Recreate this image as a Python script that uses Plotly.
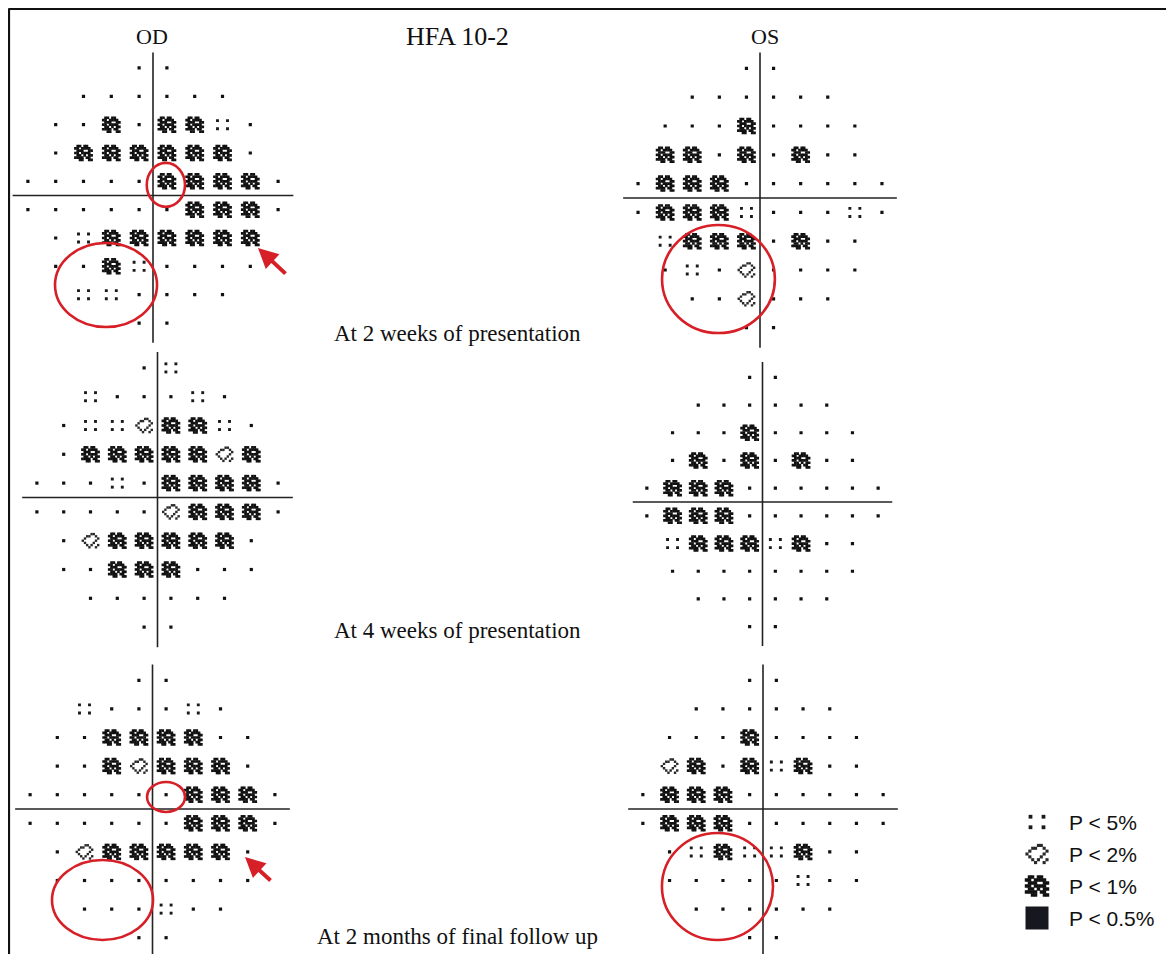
import plotly.graph_objects as go

# The page body keeps its default 8px margin, so the figure is drawn 8px in from
# the window corner; screen positions below are converted with OFF.
SCREEN_W, SCREEN_H = 1174, 954
OFF = 8
W, H = SCREEN_W - OFF, SCREEN_H - OFF

# ---------------- data (HFA 10-2 pattern deviation probability plots) ----------------
# row strings, top row first; '.' normal, ':' P<5%, '/' P<2%, '#' P<1%
OD_2_weeks = ["..", "......", "..#.##:.", ".######.", ".....####.",
              "......###.", ".:######", "..#:....", "::....", ".."]
OS_2_weeks = ["..", "......", "...#....", "##.#.#..", ".###......",
              ".###:...:.", ":###.#..", ".:./....", "../...", ".."]
OD_4_weeks = [".:", ":...:.", ".::/##:.", ".#####/#", "...:.####.",
              "...../###.", "./#####.", "..###...", "......", ".."]
OS_4_weeks = ["..", "......", "...#....", ".#.#.#..", ".###......",
              ".###......", ":###:#..", "........", "......", ".."]
OD_2_months = ["..", ":...:.", "..####..", "..#/###.", "......###.",
               "......###.", "./#####.", "........", "...:..", ".."]
OS_2_months = ["..", "......", "...#....", "/#.#:#..", ".###......",
               ".###......", ".:#::#..", ".....:..", "......", ".."]

row_y_deg = [9, 7, 5, 3, 1, -1, -3, -5, -7, -9]

eye_labels = ["OD", "OS"]
title_text = "HFA 10-2"
captions = ["At 2 weeks of presentation", "At 4 weeks of presentation",
            "At 2 months of final follow up"]
legend_codes = [":", "/", "#", "B"]
legend_labels = ["P < 5%", "P < 2%", "P < 1%", "P < 0.5%"]

# highlighted regions (degrees): panel index, x0, x1, y0, y1
highlight_ellipses = [
    (0, -0.45, 2.3, -0.8, 2.3),
    (0, -7.05, 0.29, -9.28, -3.35),
    (1, -7.23, 1.1, -9.38, -1.88),
    (4, -0.4, 2.39, -0.21, 1.89),
    (4, -7.39, 0.04, -9.16, -3.57),
    (5, -7.57, 0.75, -9.16, -1.68),
]
# arrows (degrees): panel index, head x, head y, tail x, tail y
highlight_arrows = [
    (0, 7.55, -3.7, 9.64, -5.61),
    (4, 6.8, -3.36, 8.79, -5.1),
]

panels_data = [OD_2_weeks, OS_2_weeks, OD_4_weeks, OS_4_weeks, OD_2_months, OS_2_months]

# ---------------- layout geometry (screen pixels) ----------------
# centre x, centre y, px per degree x, px per degree y
PANEL_GEOM = [
    (153.0, 195.5, 13.9, 14.17),
    (760.0, 198.0, 13.55, 14.4),
    (157.5, 497.5, 13.4, 14.4),
    (762.5, 502.0, 12.85, 13.85),
    (152.5, 809.0, 13.6, 14.3),
    (763.0, 809.0, 13.35, 14.3),
]
R = 11.0
LINE_EXT = 10.1


def px(x):
    return (x - OFF) / W


def py(y):
    return 1 - (y - OFF) / H


# glyph masks: (mask rows, step px (x, y), square size px, colour)
GLYPHS = {
    ".": (["#"], (0, 0), 3.2, "#111111"),
    ":": (["#...#", ".....", ".....", "#...#"], (2.5, 2.7), 2.9, "#1a1a1a"),
    "#": ([".##.##..",
           "##.####.",
           ".###..##",
           "##.####.",
           ".##.#.##",
           "####.##.",
           "..##..##"], (2.3, 2.3), 2.7, "#111111"),
    "/": (["....##..",
           "..##..#.",
           ".#.....#",
           "#.....#.",
           ".#...#..",
           "..#.#..#",
           "...#..#."], (2.2, 2.2), 2.4, "#2a2a2a"),
    "B": (["#"], (0, 0), 23, "#16171f"),
}


def glyph_points(code, x, y, sx, sy, scale=1.0):
    mask, (stx, sty), size, colour = GLYPHS[code]
    nr, nc = len(mask), len(mask[0])
    xs, ys = [], []
    for r, row in enumerate(mask):
        for c, ch in enumerate(row):
            if ch == "#":
                dxp = (c - (nc - 1) / 2) * stx * scale
                dyp = (r - (nr - 1) / 2) * sty * scale
                xs.append(x + dxp / sx)
                ys.append(y - dyp / sy)
    return xs, ys, size * scale, colour


fig = go.Figure()
layout_axes = {}

for i, (rows, (cx, cy, sx, sy)) in enumerate(zip(panels_data, PANEL_GEOM)):
    n = i + 1
    xa = "xaxis" if n == 1 else f"xaxis{n}"
    ya = "yaxis" if n == 1 else f"yaxis{n}"
    xref = "x" if n == 1 else f"x{n}"
    yref = "y" if n == 1 else f"y{n}"
    x0p, x1p = max(cx - R * sx, OFF), min(cx + R * sx, SCREEN_W)
    top_p, bot_p = max(cy - R * sy, OFF), min(cy + R * sy, SCREEN_H)
    layout_axes[xa] = dict(domain=[px(x0p), px(x1p)], range=[(x0p - cx) / sx, (x1p - cx) / sx],
                           visible=False, anchor=yref, fixedrange=True)
    layout_axes[ya] = dict(domain=[py(bot_p), py(top_p)],
                           range=[-(bot_p - cy) / sy, (cy - top_p) / sy],
                           visible=False, anchor=xref, fixedrange=True)

    groups = {}
    for yv, row in zip(row_y_deg, rows):
        nct = len(row)
        for k, code in enumerate(row):
            xv = -(nct - 1) + 2 * k
            xs, ys, size, colour = glyph_points(code, xv, yv, sx, sy)
            g = groups.setdefault((size, colour), ([], []))
            g[0].extend(xs)
            g[1].extend(ys)
    for (size, colour), (xs, ys) in groups.items():
        fig.add_trace(go.Scatter(x=xs, y=ys, mode="markers", xaxis=xref, yaxis=yref,
                                 marker=dict(symbol="square", size=size, color=colour,
                                             line=dict(width=0)),
                                 hoverinfo="skip", showlegend=False))
    # cross-hair axes
    fig.add_shape(type="line", xref=xref, yref=yref, x0=-LINE_EXT, x1=LINE_EXT, y0=0, y1=0,
                  line=dict(color="#222222", width=1.6))
    fig.add_shape(type="line", xref=xref, yref=yref, x0=0, x1=0, y0=-LINE_EXT - 0.3, y1=LINE_EXT,
                  line=dict(color="#222222", width=1.6))

for (p, ex0, ex1, ey0, ey1) in highlight_ellipses:
    n = p + 1
    fig.add_shape(type="circle", xref="x" if n == 1 else f"x{n}", yref="y" if n == 1 else f"y{n}",
                  x0=ex0, x1=ex1, y0=ey0, y1=ey1, line=dict(color="#d61f26", width=2.6))

annotations = []
for (p, hx, hy, tx, ty) in highlight_arrows:
    n = p + 1
    xr = "x" if n == 1 else f"x{n}"
    yr = "y" if n == 1 else f"y{n}"
    annotations.append(dict(x=hx, y=hy, ax=tx, ay=ty, xref=xr, yref=yr, axref=xr, ayref=yr,
                            text="", showarrow=True, arrowhead=2, arrowsize=1.0, arrowwidth=4,
                            arrowcolor="#d61f26", standoff=0))

# ---------------- legend (own pixel-space axis, screen coordinates) ----------------
LX0, LY0 = 1000, 795
layout_axes["xaxis7"] = dict(domain=[px(LX0), 1], range=[LX0, SCREEN_W], visible=False,
                             anchor="y7", fixedrange=True)
layout_axes["yaxis7"] = dict(domain=[0, py(LY0)], range=[SCREEN_H, LY0], visible=False,
                             anchor="x7", fixedrange=True)
leg_groups = {}
for j, code in enumerate(legend_codes):
    yc = 822 + j * 32
    xs, ys, size, colour = glyph_points(code, 1037, yc, 1.0, -1.0,
                                        scale=1.0 if code == "B" else 1.3)
    g = leg_groups.setdefault((size, colour), ([], []))
    g[0].extend(xs)
    g[1].extend(ys)
    annotations.append(dict(x=1067, y=yc, xref="x7", yref="y7", text=legend_labels[j],
                            showarrow=False, xanchor="left", yanchor="middle",
                            font=dict(family="Liberation Sans, Arial, sans-serif", size=21,
                                      color="#111111")))
for (size, colour), (xs, ys) in leg_groups.items():
    fig.add_trace(go.Scatter(x=xs, y=ys, mode="markers", xaxis="x7", yaxis="y7",
                             marker=dict(symbol="square", size=size, color=colour, line=dict(width=0)),
                             hoverinfo="skip", showlegend=False))

# ---------------- titles & captions ----------------
serif = "Liberation Serif, Times New Roman, serif"
for lab, xpos in zip(eye_labels, [152, 765]):
    annotations.append(dict(x=px(xpos), y=py(36), xref="paper", yref="paper", text=lab,
                            showarrow=False, xanchor="center", yanchor="middle",
                            font=dict(family=serif, size=22, color="#111111")))
annotations.append(dict(x=px(457), y=py(36), xref="paper", yref="paper", text=title_text,
                        showarrow=False, xanchor="center", yanchor="middle",
                        font=dict(family=serif, size=26, color="#111111")))
for cap, ypos in zip(captions, [333, 630, 936]):
    annotations.append(dict(x=px(457), y=py(ypos), xref="paper", yref="paper", text=cap,
                            showarrow=False, xanchor="center", yanchor="middle",
                            font=dict(family=serif, size=23, color="#111111")))

# frame (top and left edges)
fig.add_shape(type="line", xref="paper", yref="paper", x0=px(OFF + 0.5), x1=1, y0=py(OFF + 1),
              y1=py(OFF + 1), line=dict(color="#111111", width=2.2))
fig.add_shape(type="line", xref="paper", yref="paper", x0=px(OFF + 1), x1=px(OFF + 1), y0=0,
              y1=py(OFF + 0.5), line=dict(color="#111111", width=2.2))

fig.update_layout(width=W, height=H, margin=dict(l=0, r=0, t=0, b=0),
                  paper_bgcolor="white", plot_bgcolor="rgba(0,0,0,0)",
                  annotations=annotations, showlegend=False, **layout_axes)

fig.write_html("out.html")
